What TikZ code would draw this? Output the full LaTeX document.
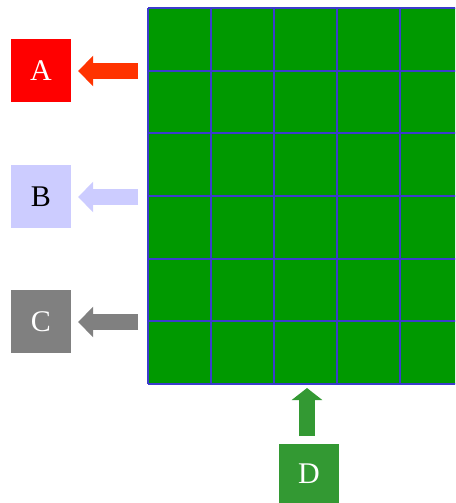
\documentclass[tikz,border=0pt]{standalone}
\usepackage{fontspec}
\setmainfont{Liberation Serif}
\usetikzlibrary{arrows.meta}
\definecolor{gridgreen}{HTML}{009900}
\definecolor{gridblue}{HTML}{3C3CCC}
\definecolor{ared}{HTML}{FF0000}
\definecolor{aarrow}{HTML}{FF3300}
\definecolor{bblue}{HTML}{CCCCFF}
\definecolor{cgray}{HTML}{808080}
\definecolor{dgreen}{HTML}{339933}
\begin{document}
\begin{tikzpicture}[x=1pt,y=-1pt,
  labelbox/.style={minimum width=60pt, minimum height=63pt, inner sep=0pt,
    font=\fontsize{30}{30}\selectfont},
  blockarrow/.style={line width=16pt, -{Triangle[width=30pt,length=15pt]}},
  gridline/.style={gridblue, line width=2pt}]
\useasboundingbox (0,0) rectangle (455,503);
\begin{scope}
  \clip (0,0) rectangle (455,503);
  \fill[gridgreen] (148,8) rectangle (463,384);
  \foreach \i in {0,...,5} \draw[gridline] (148+63*\i,8) -- (148+63*\i,384);
  \foreach \j in {0,...,6} \draw[gridline] (148,8+62.667*\j) -- (463,8+62.667*\j);
\end{scope}
\node[labelbox, fill=ared, text=white] (A) at (41,70.5) {A};
\node[labelbox, fill=bblue, text=black] (B) at (41,196.5) {B};
\node[labelbox, fill=cgray, text=white] (C) at (41,321.5) {C};
\node[labelbox, minimum height=60pt, fill=dgreen, text=white] (D) at (309,473.5) {D};
\coordinate (aT) at (138,71);
\coordinate (bT) at (138,197);
\coordinate (cT) at (138,322);
\coordinate (dT) at (307,436);
\draw[blockarrow, aarrow] (aT) -- ([xshift=7pt]A.east |- aT);
\draw[blockarrow, bblue] (bT) -- ([xshift=7pt]B.east |- bT);
\draw[blockarrow, cgray] (cT) -- ([xshift=7pt]C.east |- cT);
\draw[blockarrow, dgreen, -{Triangle[width=30pt,length=12pt]}] (dT) -- (307,388);
\end{tikzpicture}
\end{document}
